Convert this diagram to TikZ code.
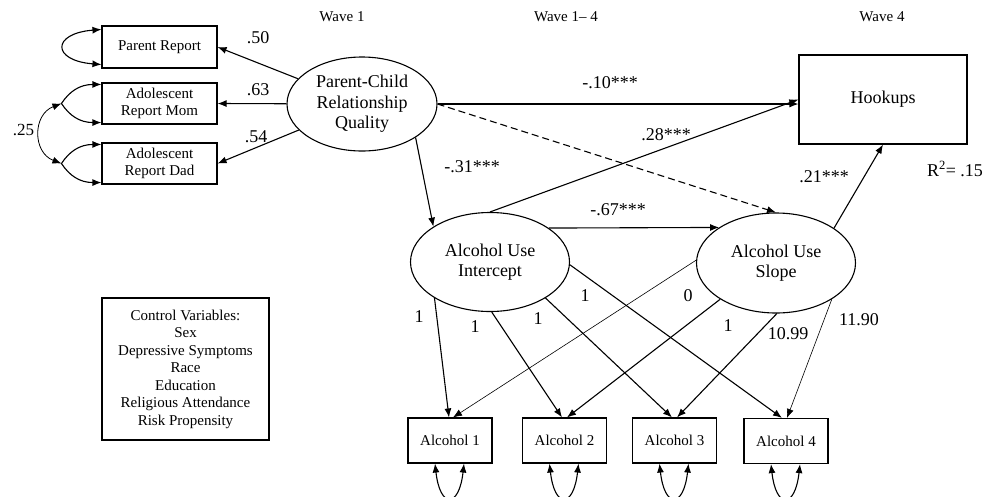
\documentclass[tikz,border=0pt]{standalone}
\usepackage{fontspec}
\setmainfont{Liberation Serif}
\usetikzlibrary{arrows.meta,shapes.geometric,calc}
\tikzset{
  big/.style={font=\fontsize{18}{20.5}\selectfont},
  small/.style={font=\fontsize{15}{17}\selectfont},
  rectbox/.style={draw, line width=1.1pt, inner sep=0pt, align=center, small},
  ell/.style={ellipse, draw, line width=1.1pt, inner sep=0pt, align=center, big},
  arr/.style={-{Latex[length=9pt,width=7pt]}, line width=1.1pt},
  thinarr/.style={-{Latex[length=9pt,width=7pt]}, line width=0.6pt},
  dbl/.style={{Latex[length=9pt,width=7pt]}-{Latex[length=9pt,width=7pt]}, line width=1.1pt},
  lab/.style={big, inner sep=0pt},
}
\begin{document}
\begin{tikzpicture}[x=1pt,y=-1pt]
\useasboundingbox (0,0) rectangle (994,496);

% wave headers
\node[small] (w1) at (342,17) {Wave 1};
\node[small] (w14) at (566,17) {Wave 1\textendash{} 4};
\node[small] (w4) at (882,17) {Wave 4};

% indicator boxes
\node[rectbox, minimum width=115, minimum height=42] (pr) at (159.5,47) {Parent Report};
\node[rectbox, minimum width=115, minimum height=41] (mom) at (159.5,103.5) {Adolescent\\Report Mom};
\node[rectbox, minimum width=115, minimum height=41] (dad) at (159.5,163.5) {Adolescent\\Report Dad};

% latent variables
\node[ell, minimum width=150, minimum height=94] (pcrq) at (362,104) {Parent-Child\\Relationship\\Quality};
\node[ell, minimum width=159, minimum height=99] (int) at (490,262) {Alcohol Use\\Intercept};
\node[ell, minimum width=159, minimum height=100] (slope) at (776,263) {Alcohol Use\\Slope};

% outcome
\node[rectbox, big, minimum width=168, minimum height=89] (hook) at (883,99.5) {Hookups};
\node[lab] (r2) at (955,169) {R\textsuperscript{2}= .15};

% alcohol boxes
\node[rectbox, minimum width=84, minimum height=45] (a1) at (450,440.5) {Alcohol 1};
\node[rectbox, minimum width=84, minimum height=45] (a2) at (564.5,440.5) {Alcohol 2};
\node[rectbox, minimum width=84, minimum height=45] (a3) at (674.5,440.5) {Alcohol 3};
\node[rectbox, minimum width=84, minimum height=45] (a4) at (786,441) {Alcohol 4};

% control variables
\node[rectbox, minimum width=167, minimum height=142, font=\fontsize{15}{17.5}\selectfont] (ctrl) at (185.5,369)
  {Control Variables:\\Sex\\Depressive Symptoms\\Race\\Education\\Religious Attendance\\Risk Propensity};

% measurement paths
\draw[arr] (pcrq) -- (pr.east);
\draw[arr] (pcrq) -- (mom.east);
\draw[arr] (pcrq) -- (dad.east);
\node[lab] (l50) at (258,38) {.50};
\node[lab] (l63) at (258,90) {.63};
\node[lab] (l54) at (256,137) {.54};

% residual loops left
\draw[dbl] ($(pr.north west)+(0,4)$) .. controls +(-50,4) and +(-50,-4) .. ($(pr.south west)+(0,-4)$);
\coordinate (mm) at ($(mom.west)+(-40,0)$);
\coordinate (dm) at ($(dad.west)+(-40,0)$);
\draw[dbl] ($(mom.north west)+(0,2)$) .. controls +(-22,0) and +(8,-12) .. (mm) .. controls +(8,12) and +(-22,0) .. ($(mom.south west)+(0,-2)$);
\draw[dbl] ($(dad.north west)+(0,2)$) .. controls +(-22,0) and +(8,-12) .. (dm) .. controls +(8,12) and +(-22,0) .. ($(dad.south west)+(0,-2)$);
\draw[{Latex[length=9pt,width=7pt]}-{Latex[length=9pt,width=7pt]}, line width=0.8pt] (mm) .. controls +(-29,11) and +(-29,-11) .. (dm);
\node[lab, font=\fontsize{17}{19}\selectfont] (l25) at (23.5,130) {.25};

% structural paths
\draw[arr] (pcrq.east) -- (pcrq.east -| hook.west);
\node[lab] (l10) at (610,83) {-.10***};
\draw[arr, dash pattern=on 7pt off 4pt] (pcrq.east) -- (slope.north);
\draw[arr] (int.north) -- (hook.west);
\node[lab] (l28) at (666,135) {.28***};
\draw[arr] (pcrq.-32) -- (int.148.5);
\node[lab] (l31) at (472,167) {-.31***};
\draw[arr] (int.30.5) -- (slope.148.5);
\node[lab] (l67) at (618,210) {-.67***};
\draw[arr] (slope.31.5) -- (hook.south);
\node[lab] (l21) at (824,177) {.21***};

% growth loadings
\draw[arr] (int.213) -- ($(a1.north)+(-1,0)$);
\draw[arr] (int.-88) -- ($(a2.north)+(-2.5,0)$);
\draw[arr] (int.-33) -- ($(a3.north)+(-2.5,0)$);
\draw[arr] (int.-2) -- ($(a4.north)+(-4,0)$);
\draw[thinarr] (slope.178) -- ($(a1.north)+(3,0)$);
\draw[arr] (slope.213.5) -- ($(a2.north)+(2.5,0)$);
\draw[arr] (slope.-89) -- ($(a3.north)+(2.5,0)$);
\draw[thinarr] (slope.-33) -- ($(a4.north)+(1,0)$);

\node[lab] (i1) at (419,317) {1};
\node[lab] (i2) at (475,327) {1};
\node[lab] (i3) at (538,319) {1};
\node[lab] (i4) at (585,296) {1};
\node[lab] (s1) at (688,296) {0};
\node[lab] (s2) at (728,326) {1};
\node[lab] (s3) at (788,334) {10.99};
\node[lab] (s4) at (859,320) {11.90};

% residual loops bottom
\foreach \n in {a1,a2,a3,a4}{
  \draw[dbl] ($(\n.south)+(-15,0)$) .. controls +(5,45) and +(-5,45) .. ($(\n.south)+(14,0)$);
}
\end{tikzpicture}
\end{document}
